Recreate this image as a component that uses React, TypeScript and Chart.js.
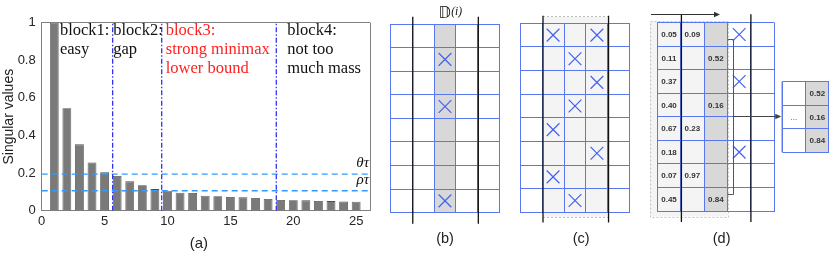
import React, { useEffect, useRef } from 'react';
import { Chart, registerables } from 'chart.js';

Chart.register(...registerables);

// ---------------- (a) data ----------------
const indices = [1, 2, 3, 4, 5, 6, 7, 8, 9, 10, 11, 12, 13, 14, 15, 16, 17, 18, 19, 20, 21, 22, 23, 24, 25];
const singularValues = [
  1.0, 0.545, 0.353, 0.257, 0.204, 0.185, 0.156, 0.135, 0.115, 0.106,
  0.096, 0.094, 0.080, 0.077, 0.073, 0.071, 0.068, 0.062, 0.057, 0.056,
  0.055, 0.052, 0.051, 0.049, 0.048,
];
const thetaTau = 0.195;
const rhoTau = 0.106;
const blockBoundaries = [5.64, 9.54, 18.65];
const blockLabels = [
  ['block1:', 'easy'],
  ['block2:', 'gap'],
  ['block3:', 'strong minimax', 'lower bound'],
  ['block4:', 'not too', 'much mass'],
];
const xTickValues = [0, 5, 10, 15, 20, 25];
const yTickValues = [0, 0.2, 0.4, 0.6, 0.8, 1];

// ---------------- (b)(c)(d) data ----------------
const GRID_COLS = 5;
const GRID_ROWS = 8;
const bCrosses = [[2, 1], [2, 3], [2, 7]];
const cCrosses = [[1, 0], [3, 0], [2, 1], [3, 2], [2, 3], [1, 4], [3, 5], [1, 6], [2, 7]];
const dCrosses = [[3, 0], [3, 2], [3, 5]];
const dCol1 = ['0.05', '0.11', '0.37', '0.40', '0.67', '0.18', '0.07', '0.45'];
const dCol2 = ['0.09', '', '', '', '0.23', '', '0.97', ''];
const dCol3 = ['', '0.52', '', '0.16', '', '', '', '0.84'];
const dExtracted = ['0.52', '0.16', '0.84'];

// ---------------- styles ----------------
const BLUE_GRID = '#5a78ee';
const CROSS_BLUE = '#4262f0';
const SANS = '"Liberation Sans", Arial, sans-serif';
const SERIF = '"Liberation Serif", "Times New Roman", serif';

function range(n: number) {
  return Array.from({ length: n + 1 }, (_, i) => i);
}

function align(p: number) {
  return Math.round(p - 0.5) + 0.5;
}

function arrow(ctx: CanvasRenderingContext2D, x0: number, y: number, x1: number, color: string) {
  ctx.save();
  ctx.strokeStyle = color;
  ctx.fillStyle = color;
  ctx.lineWidth = 1;
  ctx.setLineDash([]);
  ctx.beginPath();
  ctx.moveTo(x0, y);
  ctx.lineTo(x1 - 4, y);
  ctx.stroke();
  ctx.beginPath();
  ctx.moveTo(x1, y);
  ctx.lineTo(x1 - 6, y - 2.8);
  ctx.lineTo(x1 - 6, y + 2.8);
  ctx.closePath();
  ctx.fill();
  ctx.restore();
}

function makeBarChart(canvas: HTMLCanvasElement) {
  const labelStarts = [1.45, 5.69, 9.86, 19.52];
  const labelColors = ['#111111', '#111111', '#ff1f1f', '#111111'];
  const decor = {
    id: 'aDecor',
    afterDraw(chart: any) {
      const { ctx, chartArea: ca, scales } = chart;
      const x = scales.x;
      const y = scales.y;
      ctx.save();
      // frame top / right
      ctx.strokeStyle = '#808080';
      ctx.lineWidth = 1;
      ctx.beginPath();
      ctx.moveTo(ca.left, align(ca.top));
      ctx.lineTo(ca.right, align(ca.top));
      ctx.moveTo(align(ca.right), ca.top);
      ctx.lineTo(align(ca.right), ca.bottom);
      ctx.stroke();
      // block labels
      ctx.font = '16.5px ' + SERIF;
      ctx.textAlign = 'left';
      ctx.textBaseline = 'alphabetic';
      blockLabels.forEach((lines, i) => {
        ctx.fillStyle = labelColors[i];
        lines.forEach((t, j) => {
          ctx.fillText(t, x.getPixelForValue(labelStarts[i]), ca.top + 12.5 + j * 19);
        });
      });
      // threshold labels
      ctx.fillStyle = '#111';
      ctx.font = 'italic 15px ' + SERIF;
      ctx.textAlign = 'right';
      ctx.fillText('θτ', ca.right - 1, y.getPixelForValue(thetaTau) - 7);
      ctx.fillText('ρτ', ca.right - 1, y.getPixelForValue(rhoTau) - 7);
      // y title
      ctx.save();
      ctx.translate(9.5, (ca.top + ca.bottom) / 2);
      ctx.rotate(-Math.PI / 2);
      ctx.textAlign = 'center';
      ctx.textBaseline = 'middle';
      ctx.font = '14px ' + SANS;
      ctx.fillStyle = '#222';
      ctx.fillText('Singular values', 0, 0);
      ctx.restore();
      // (a)
      ctx.font = '15px ' + SANS;
      ctx.textAlign = 'center';
      ctx.textBaseline = 'alphabetic';
      ctx.fillStyle = '#222';
      ctx.fillText('(a)', x.getPixelForValue(12.5), 247.5);
      ctx.restore();
    },
  };

  return new Chart(canvas, {
    type: 'bar',
    data: {
      datasets: [
        {
          type: 'line',
          data: [{ x: 0, y: thetaTau }, { x: 26.1, y: thetaTau }],
          borderColor: '#3399ff',
          borderDash: [6, 4],
          borderWidth: 1.3,
          pointRadius: 0,
          order: 1,
        } as any,
        {
          type: 'line',
          data: [{ x: 0, y: rhoTau }, { x: 26.1, y: rhoTau }],
          borderColor: '#3399ff',
          borderDash: [6, 4],
          borderWidth: 1.3,
          pointRadius: 0,
          order: 1,
        },
        ...blockBoundaries.map((b) => ({
          type: 'line',
          data: [{ x: b, y: 0 }, { x: b, y: 1 }],
          borderColor: '#3030f5',
          borderDash: [5, 2, 1.5, 2],
          borderWidth: 1.3,
          pointRadius: 0,
          order: 0,
        })),
        {
          type: 'bar',
          data: indices.map((v, i) => ({ x: v, y: singularValues[i] })),
          backgroundColor: '#7a7a7a',
          borderColor: '#4d4d4d',
          borderWidth: 0.8,
          barPercentage: 0.7,
          categoryPercentage: 1,
          order: 2,
        },
      ] as any,
    },
    options: {
      animation: false,
      responsive: false,
      events: [],
      layout: { padding: { top: 22.7, right: 2, left: 0, bottom: 0 } },
      plugins: { legend: { display: false }, tooltip: { enabled: false } },
      scales: {
        x: {
          type: 'linear',
          min: 0,
          max: 26.1,
          offset: false,
          afterBuildTicks: (s: any) => {
            s.ticks = xTickValues.map((v) => ({ value: v }));
          },
          afterFit: (s: any) => {
            s.height = 43.3;
          },
          grid: { display: false, drawTicks: false, offset: false },
          border: { color: '#808080', width: 1 },
          ticks: {
            color: '#262626',
            font: { family: SANS, size: 13 },
            padding: 3,
            maxRotation: 0,
            callback: (v: any) => String(v),
          },
        },
        y: {
          type: 'linear',
          min: 0,
          max: 1,
          afterBuildTicks: (s: any) => {
            s.ticks = yTickValues.map((v) => ({ value: v }));
          },
          afterFit: (s: any) => {
            s.width = 41.7;
          },
          grid: { display: false, drawTicks: false },
          border: { color: '#808080', width: 1 },
          ticks: {
            color: '#262626',
            font: { family: SANS, size: 13 },
            padding: 6,
            callback: (v: any) => String(v),
          },
        },
      },
    } as any,
    plugins: [decor],
  });
}

function makeGridChart(
  canvas: HTMLCanvasElement,
  padding: any,
  crosses: number[][],
  blackXs: number[],
  blackY: number[],
  before: (ctx: CanvasRenderingContext2D, X: (v: number) => number, Y: (v: number) => number) => void,
  after: (ctx: CanvasRenderingContext2D, X: (v: number) => number, Y: (v: number) => number) => void,
) {
  const deco = {
    id: 'gridDeco',
    beforeDraw(chart: any) {
      const { ctx, scales } = chart;
      ctx.save();
      before(ctx, (v) => scales.x.getPixelForValue(v), (v) => scales.y.getPixelForValue(v));
      ctx.restore();
    },
    afterDraw(chart: any) {
      const { ctx, scales } = chart;
      ctx.save();
      after(ctx, (v) => scales.x.getPixelForValue(v), (v) => scales.y.getPixelForValue(v));
      ctx.restore();
    },
  };
  return new Chart(canvas, {
    type: 'scatter',
    data: {
      datasets: [
        {
          data: crosses.map(([c, r]) => ({ x: c + 0.5, y: r + 0.5 })),
          pointStyle: 'crossRot',
          pointRadius: 9,
          pointHoverRadius: 9,
          borderColor: CROSS_BLUE,
          backgroundColor: 'transparent',
          borderWidth: 1.2,
        },
        ...blackXs.map((bx) => ({
          type: 'line',
          data: [{ x: bx, y: blackY[0] }, { x: bx, y: blackY[1] }],
          borderColor: '#111111',
          borderWidth: 1.3,
          pointRadius: 0,
          clip: false,
        })),
      ] as any,
    },
    options: {
      animation: false,
      responsive: false,
      events: [],
      layout: { padding },
      plugins: { legend: { display: false }, tooltip: { enabled: false } },
      scales: {
        x: {
          type: 'linear',
          min: 0,
          max: GRID_COLS,
          afterBuildTicks: (s: any) => {
            s.ticks = range(GRID_COLS).map((v) => ({ value: v }));
          },
          afterFit: (s: any) => {
            s.height = 0;
          },
          ticks: { display: false },
          grid: { color: BLUE_GRID, drawTicks: false, lineWidth: 1 },
          border: { color: BLUE_GRID, width: 1 },
        },
        y: {
          type: 'linear',
          min: 0,
          max: GRID_ROWS,
          reverse: true,
          afterBuildTicks: (s: any) => {
            s.ticks = range(GRID_ROWS).map((v) => ({ value: v }));
          },
          afterFit: (s: any) => {
            s.width = 0;
          },
          ticks: { display: false },
          grid: { color: BLUE_GRID, drawTicks: false, lineWidth: 1 },
          border: { color: BLUE_GRID, width: 1 },
        },
      },
    } as any,
    plugins: [deco],
  });
}

function panelLabel(ctx: CanvasRenderingContext2D, text: string, x: number) {
  ctx.font = '14.5px ' + SANS;
  ctx.fillStyle = '#222';
  ctx.textAlign = 'center';
  ctx.textBaseline = 'alphabetic';
  ctx.fillText(text, x, 242.5);
}

export default function App() {
  const aRef = useRef<HTMLCanvasElement>(null);
  const bRef = useRef<HTMLCanvasElement>(null);
  const cRef = useRef<HTMLCanvasElement>(null);
  const dRef = useRef<HTMLCanvasElement>(null);

  useEffect(() => {
    const charts: Chart[] = [];
    charts.push(makeBarChart(aRef.current!));

    // (b)
    charts.push(
      makeGridChart(
        bRef.current!,
        { left: 6, right: 7, top: 24, bottom: 41.3 },
        bCrosses,
        [1.03, 4.02],
        [-0.31, 8.47],
        (ctx, X, Y) => {
          ctx.fillStyle = '#d8d8d8';
          ctx.fillRect(X(2), Y(0), X(3) - X(2), Y(GRID_ROWS) - Y(0));
        },
        (ctx, X) => {
          ctx.fillStyle = '#111';
          ctx.textBaseline = 'alphabetic';
          ctx.textAlign = 'left';
          ctx.font = '15px "DejaVu Sans", sans-serif';
          const dx = X(2.2);
          ctx.fillText('𝔻', dx, 18.3);
          const w = ctx.measureText('𝔻').width;
          ctx.font = 'italic 11.5px ' + SERIF;
          ctx.fillText('(i)', dx + w + 0.5, 14.5);
          panelLabel(ctx, '(b)', X(2.5));
        },
      ),
    );

    // (c)
    charts.push(
      makeGridChart(
        cRef.current!,
        { left: 8, right: 5, top: 23.3, bottom: 41.7 },
        cCrosses,
        [1.04, 4.03],
        [-0.32, 8.43],
        (ctx, X, Y) => {
          const x0 = X(1.04);
          const x1 = X(4.03);
          const y0 = Y(-0.28);
          const y1 = Y(8.2);
          ctx.fillStyle = '#f4f4f4';
          ctx.fillRect(x0, y0, x1 - x0, y1 - y0);
          ctx.strokeStyle = '#bdbdbd';
          ctx.lineWidth = 1;
          ctx.setLineDash([2, 2]);
          ctx.beginPath();
          ctx.moveTo(x0, align(y0));
          ctx.lineTo(x1, align(y0));
          ctx.moveTo(x0, align(y1));
          ctx.lineTo(x1, align(y1));
          ctx.stroke();
        },
        (ctx, X) => {
          panelLabel(ctx, '(c)', X(2.78));
        },
      ),
    );

    // (d)
    charts.push(
      makeGridChart(
        dRef.current!,
        { left: 17.3, right: 55.7, top: 22.7, bottom: 43 },
        dCrosses,
        [1.03, 4.0],
        [-0.36, 8.47],
        (ctx, X, Y) => {
          const x0 = X(-0.31);
          const x1 = X(3.01);
          const y0 = Y(-0.07);
          const y1 = Y(8.24);
          ctx.fillStyle = '#f4f4f4';
          ctx.fillRect(x0, y0, x1 - x0, y1 - y0);
          ctx.strokeStyle = '#c4c4c4';
          ctx.lineWidth = 1;
          ctx.setLineDash([2, 2]);
          ctx.strokeRect(align(x0), align(y0), Math.round(x1 - x0), Math.round(y1 - y0));
          ctx.setLineDash([]);
          ctx.fillStyle = '#d8d8d8';
          ctx.fillRect(X(2), Y(0), X(3) - X(2), Y(GRID_ROWS) - Y(0));
          // small extracted table background
          ctx.fillStyle = '#d8d8d8';
          ctx.fillRect(X(6.34), Y(2.5), X(7.34) - X(6.34), Y(5.5) - Y(2.5));
        },
        (ctx, X, Y) => {
          // numbers
          ctx.font = 'bold 8px ' + SANS;
          ctx.fillStyle = '#333';
          ctx.textAlign = 'center';
          ctx.textBaseline = 'middle';
          [dCol1, dCol2, dCol3].forEach((col, c) => {
            col.forEach((t, r) => {
              if (t) ctx.fillText(t, X(c + 0.5), Y(r + 0.5) + 0.5);
            });
          });
          // top arrow
          arrow(ctx, X(-0.27), align(Y(-0.36)), X(2.68), '#333');
          // bracket
          ctx.strokeStyle = '#555';
          ctx.lineWidth = 1;
          const bx = align(X(3.25));
          const bxl = X(3.02);
          const byt = align(Y(0.7));
          const byb = align(Y(7.29));
          ctx.beginPath();
          ctx.moveTo(bxl, byt);
          ctx.lineTo(bx, byt);
          ctx.lineTo(bx, byb);
          ctx.lineTo(bxl, byb);
          ctx.stroke();
          // arrow to extracted table
          arrow(ctx, bx, align(Y(4)), X(5.34) - 1, '#444');
          // extracted table grid
          ctx.strokeStyle = BLUE_GRID;
          ctx.lineWidth = 1;
          ctx.beginPath();
          [5.34, 6.34, 7.34].forEach((cx, i) => {
            const px = i === 2 ? Math.round(X(cx)) - 0.5 : align(X(cx));
            ctx.moveTo(px, Y(2.5));
            ctx.lineTo(px, Y(5.5));
          });
          [2.5, 3.5, 4.5, 5.5].forEach((ry) => {
            const py = align(Y(ry));
            ctx.moveTo(X(5.34), py);
            ctx.lineTo(X(7.34), py);
          });
          ctx.stroke();
          ctx.strokeStyle = 'rgba(120,150,240,0.6)';
          ctx.beginPath();
          ctx.moveTo(align(X(5.34)) - 1, Y(2.5));
          ctx.lineTo(align(X(5.34)) - 1, Y(5.5));
          ctx.stroke();
          ctx.fillStyle = '#333';
          ctx.textAlign = 'center';
          ctx.textBaseline = 'middle';
          ctx.font = 'bold 8px ' + SANS;
          dExtracted.forEach((t, i) => {
            ctx.fillText(t, X(6.84), Y(3 + i) + 0.5);
          });
          ctx.font = '8px ' + SANS;
          ctx.fillText('...', X(5.84), Y(4) + 0.5);
          panelLabel(ctx, '(d)', X(2.75));
        },
      ),
    );

    return () => {
      charts.forEach((c) => c.destroy());
    };
  }, []);

  const canvasStyle = (left: number, width: number): React.CSSProperties => ({
    position: 'absolute',
    left,
    top: 0,
    width,
    height: 254,
    display: 'block',
  });

  return (
    <div style={{ position: 'absolute', left: 0, top: 0, width: 830, height: 254, background: '#ffffff', overflow: 'hidden' }}>
      <canvas ref={aRef} width={372} height={254} style={canvasStyle(0, 372)} />
      <canvas ref={bRef} width={130} height={254} style={canvasStyle(380, 130)} />
      <canvas ref={cRef} width={130} height={254} style={canvasStyle(510, 130)} />
      <canvas ref={dRef} width={190} height={254} style={canvasStyle(640, 190)} />
    </div>
  );
}
